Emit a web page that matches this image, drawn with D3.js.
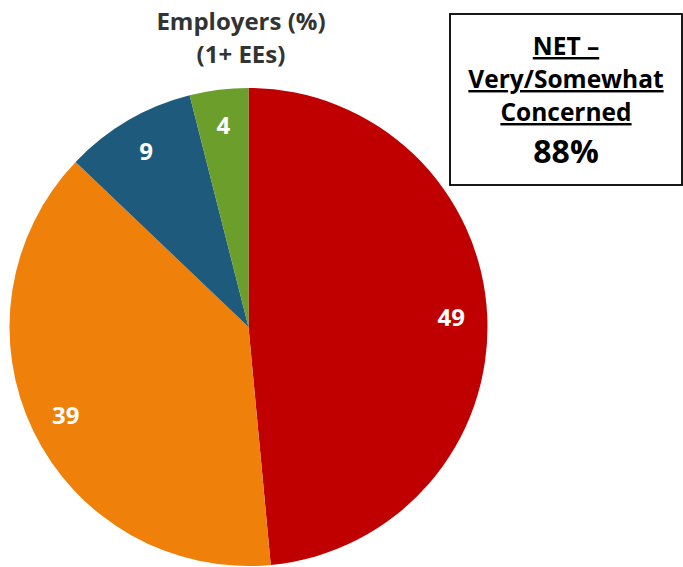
<!DOCTYPE html>
<html>
<head>
<meta charset="utf-8">
<script src="https://cdn.jsdelivr.net/npm/d3@7"></script>
<style>
  body { margin: 0; background: #fff; }
  svg text { font-family: "Open Sans", Lato, sans-serif; font-weight: bold; }
</style>
</head>
<body>
<div id="chart"></div>
<script>
// slices, clockwise from 12 o'clock
const categories = ['Very concerned', 'Somewhat concerned', 'Not very concerned', 'Not at all concerned']
const values = [49, 39, 9, 4]
const colors = ['#C00000', '#EF800A', '#1E5A7B', '#6C9E2B']
const titleLines = ['Employers (%)', '(1+ EEs)']
const netLines = ['NET –', 'Very/Somewhat', 'Concerned']
const netValue = '88%'

const width = 683, height = 567
const cx = 248.5, cy = 327, radius = 239

const svg = d3.select('#chart').append('svg')
  .attr('width', width).attr('height', height)

const g = svg.append('g').attr('transform', `translate(${cx}, ${cy})`)

const pie = d3.pie().sort(null).value(d => d)
const arc = d3.arc().innerRadius(0).outerRadius(radius)
const labelArc = d3.arc().innerRadius(203).outerRadius(203)

const slices = pie(values)

g.selectAll('path.slice')
  .data(slices)
  .join('path')
  .attr('class', 'slice')
  .attr('d', arc)
  .attr('fill', (d, i) => colors[i])

g.selectAll('text.value')
  .data(slices)
  .join('text')
  .attr('class', 'value')
  .attr('transform', d => `translate(${labelArc.centroid(d)})`)
  .attr('text-anchor', 'middle')
  .attr('dy', '0.36em')
  .attr('fill', '#fff')
  .attr('font-size', 24)
  .text(d => d.data)

// 标题
svg.append('g').selectAll('text')
  .data(titleLines)
  .join('text')
  .attr('x', 241)
  .attr('y', (d, i) => 30 + i * 33)
  .attr('text-anchor', 'middle')
  .attr('fill', '#333')
  .attr('font-size', 24)
  .text(d => d)

// NET box
const box = svg.append('g')
box.append('rect')
  .attr('x', 450).attr('y', 14)
  .attr('width', 232).attr('height', 171)
  .attr('fill', '#fff').attr('stroke', '#000').attr('stroke-width', 1.8)

box.selectAll('text.net')
  .data(netLines)
  .join('text')
  .attr('class', 'net')
  .attr('x', 566)
  .attr('y', (d, i) => 55 + i * 33)
  .attr('text-anchor', 'middle')
  .attr('fill', '#000')
  .attr('font-size', 24.5)
  .attr('text-decoration', 'underline')
  .text(d => d)

box.append('text')
  .attr('x', 566).attr('y', 163)
  .attr('text-anchor', 'middle')
  .attr('fill', '#000')
  .attr('font-size', 32)
  .text(netValue)
</script>
</body>
</html>
